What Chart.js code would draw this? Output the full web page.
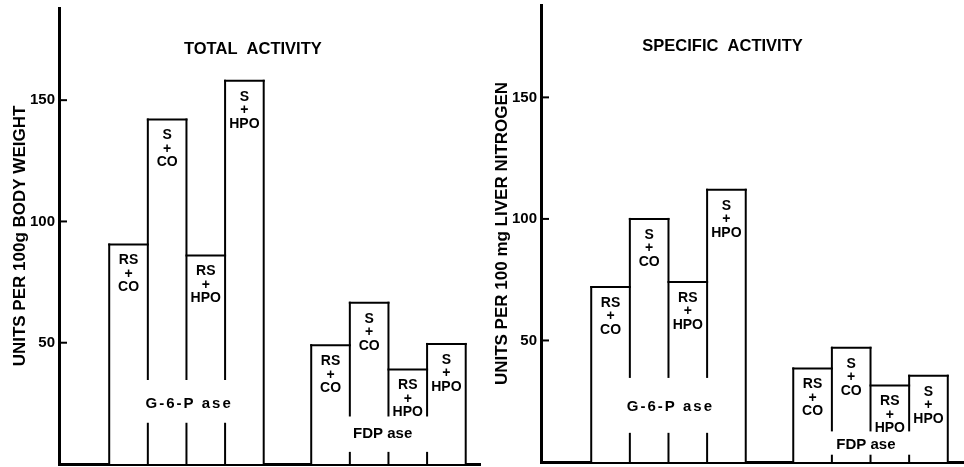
<!DOCTYPE html>
<html><head><meta charset="utf-8">
<script src="https://cdn.jsdelivr.net/npm/chart.js@4"></script>
<style>
html,body{margin:0;padding:0;background:#fff;}
#wrap{width:964px;height:467px;display:flex;}
.panel{position:relative;width:482px;height:467px;}
canvas{display:block;}
</style></head><body>
<div id="wrap">
  <div class="panel"><canvas id="c1" width="482" height="467"></canvas></div>
  <div class="panel"><canvas id="c2" width="482" height="467"></canvas></div>
</div>
<script>
// ---------- data ----------
const conditions = ['RS + CO', 'S + CO', 'RS + HPO', 'S + HPO'];
const enzymes = ['G-6-P ase', 'FDP ase'];
const totalG6Pase = [90.5, 142, 86, 158];
const totalFDPase = [49, 66.5, 39, 49.5];
const specificG6Pase = [72, 100, 74, 112];
const specificFDPase = [38.5, 47, 31.5, 35.5];
const yTicks = [50, 100, 150];
const panelTitles = ['TOTAL  ACTIVITY', 'SPECIFIC  ACTIVITY'];
const yTitles = ['UNITS PER 100g BODY WEIGHT', 'UNITS PER 100 mg LIVER NITROGEN'];

// ---------- layout / style ----------
const FONT = '"Liberation Sans", Arial, sans-serif';
const GROUP_STRIDE = 5.23;   // in bar widths
const X_MIN = -1.8;

const panels = [
  { canvas: 'c1', title: panelTitles[0], yTitle: yTitles[0], series: [totalG6Pase, totalFDPase],
    padTop: 8, padRight: 2, xHeight: 3, xMax: 9.1, yMax: 188, titleX: 3.22, titleY: 171,
    groups: [ {gapTop: 35, tickTop: 17, labelY: 25, dx: 0.07}, {gapTop: 20, tickTop: 5, labelY: 12.4, dx: -0.15} ] },
  { canvas: 'c2', title: panelTitles[1], yTitle: yTitles[1], series: [specificG6Pase, specificFDPase],
    padTop: 5, padRight: 0, xHeight: 5, xMax: 9.15, yMax: 188, titleX: 2.9, titleY: 171,
    groups: [ {gapTop: 35, tickTop: 12, labelY: 22.7, dx: 0.05}, {gapTop: 13, tickTop: 3, labelY: 7, dx: -0.12} ] }
];

const sketchPlugin = {
  id: 'sketch',
  afterDatasetsDraw(chart, args, opts) {
    const ctx = chart.ctx, xs = chart.scales.x, ys = chart.scales.y;
    const bars = chart.getDatasetMeta(0).data.map(el => el.getProps(['x', 'y', 'base', 'width'], true));
    const line = (x1, y1, x2, y2) => { ctx.beginPath(); ctx.moveTo(x1, y1); ctx.lineTo(x2, y2); ctx.stroke(); };
    ctx.save();
    ctx.strokeStyle = '#000'; ctx.fillStyle = '#000';
    ctx.lineWidth = 2; ctx.lineCap = 'square';
    opts.groups.forEach((grp, g) => {
      const b = bars.slice(g * conditions.length, (g + 1) * conditions.length);
      const gapTop = ys.getPixelForValue(grp.gapTop), tickTop = ys.getPixelForValue(grp.tickTop);
      b.forEach((bar, i) => {
        const l = bar.x - bar.width / 2, r = bar.x + bar.width / 2;
        line(l, bar.y, r, bar.y);
        if (i === 0) line(l, bar.y, l, bar.base);
        else {
          const top = Math.min(bar.y, b[i - 1].y);
          line(l, top, l, gapTop);
          ctx.lineCap = 'butt'; line(l, tickTop, l, bar.base); ctx.lineCap = 'square';
        }
        if (i === b.length - 1) line(r, bar.y, r, bar.base);
        // condition label inside bar
        const parts = conditions[i].split(' ');
        ctx.font = 'bold 14px ' + FONT;
        ctx.textAlign = 'center'; ctx.textBaseline = 'middle';
        parts.forEach((p, k) => ctx.fillText(p, bar.x, bar.y + 16 + k * 13.5));
      });
      // enzyme label
      const cx = xs.getPixelForValue(g * GROUP_STRIDE + (conditions.length - 1) / 2 + grp.dx);
      ctx.font = 'bold 15px ' + FONT;
      ctx.letterSpacing = g === 0 ? '2px' : '0px';
      ctx.fillText(enzymes[g], cx, ys.getPixelForValue(grp.labelY));
      ctx.letterSpacing = '0px';
    });
    // inward y tick marks
    ctx.lineCap = 'butt';
    yTicks.forEach(v => { const y = ys.getPixelForValue(v); line(chart.chartArea.left, y, chart.chartArea.left + 8, y); });
    // panel title
    ctx.font = 'bold 16.5px ' + FONT;
    ctx.textAlign = 'center'; ctx.textBaseline = 'middle';
    ctx.fillText(opts.title, xs.getPixelForValue(opts.titleX), ys.getPixelForValue(opts.titleY));
    ctx.restore();
  }
};

panels.forEach(p => {
  const points = [];
  p.series.forEach((vals, g) => vals.forEach((v, i) => points.push({ x: g * GROUP_STRIDE + i, y: v })));
  new Chart(document.getElementById(p.canvas), {
    type: 'bar',
    data: { datasets: [{ data: points, backgroundColor: '#ffffff', borderWidth: 0,
      barPercentage: 1, categoryPercentage: 1 }] },
    options: {
      responsive: false, animation: false, devicePixelRatio: 1,
      layout: { padding: { top: p.padTop, right: p.padRight, bottom: 0, left: 0 } },
      plugins: { legend: { display: false }, tooltip: { enabled: false },
        sketch: { groups: p.groups, title: p.title, titleX: p.titleX, titleY: p.titleY } },
      scales: {
        x: { type: 'linear', min: X_MIN, max: p.xMax, z: 1, offset: false,
          ticks: { display: false, stepSize: 1, includeBounds: false },
          grid: { drawOnChartArea: false, drawTicks: false, offset: false },
          border: { display: true, color: '#000', width: 3 },
          afterFit: s => { s.height = p.xHeight; s.paddingLeft = 0; s.paddingRight = 0; } },
        y: { min: 0, max: p.yMax, z: 1,
          afterBuildTicks: s => { s.ticks = yTicks.map(v => ({ value: v })); },
          ticks: { color: '#000', padding: 4, font: { family: FONT, size: 15, weight: 'bold' } },
          grid: { drawOnChartArea: false, drawTicks: false },
          border: { display: true, color: '#000', width: 3 },
          title: { display: true, text: p.yTitle, color: '#000', font: { family: FONT, size: 17, weight: 'bold' },
            padding: { top: 10, bottom: 0 } },
          afterFit: s => { s.width = 59; s.paddingTop = 0; s.paddingBottom = 0; } }
      }
    },
    plugins: [sketchPlugin]
  });
});
</script>
</body></html>
